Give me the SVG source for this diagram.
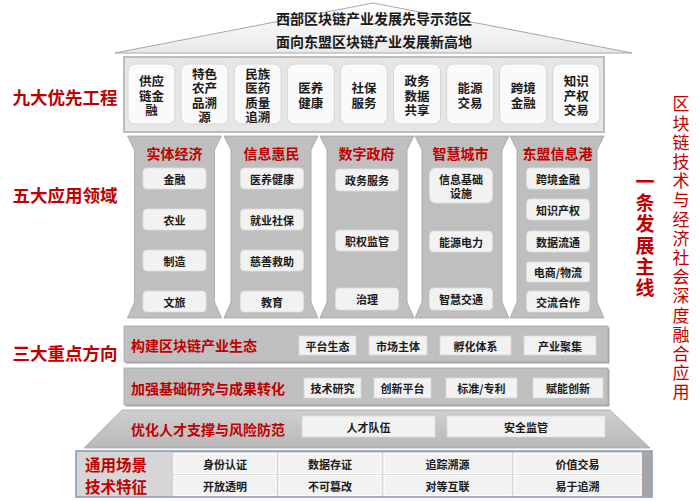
<svg xmlns="http://www.w3.org/2000/svg" width="700" height="501" viewBox="0 0 700 501">
<defs>
<linearGradient id="roofG" x1="0" y1="0" x2="0" y2="1"><stop offset="0" stop-color="#ffffff"/><stop offset="1" stop-color="#e9e9e9"/></linearGradient>
<linearGradient id="trapG" x1="0" y1="0" x2="0" y2="1"><stop offset="0" stop-color="#cfcfcf"/><stop offset="1" stop-color="#b8b8b8"/></linearGradient>
<style>
text{font-family:'Noto Sans CJK SC','Noto Sans',sans-serif;font-weight:700;text-anchor:middle;dominant-baseline:central;}
.lbl{font-size:17.5px;fill:#c00000;}
.ttl{font-size:14px;fill:#1a1a1a;}
.nine{font-size:12.5px;fill:#1a1a1a;}
.hd{font-size:14px;fill:#c00000;}
.it{font-size:11px;fill:#1a1a1a;}
.rt{font-size:14px;fill:#c00000;text-anchor:start;}
.bl{font-size:15.5px;fill:#c00000;}
.ibox{fill:#fafafa;stroke:#d6d6d6;stroke-width:1;}
.pbox{fill:#f2f2f2;stroke:#dedede;stroke-width:0.8;}
.rbox{fill:#f2f2f2;stroke:#d9d9d9;stroke-width:0.8;}
.pil{fill:#bfbfbf;stroke:#a3a3a3;stroke-width:0.8;}
.row{fill:#bfbfbf;stroke:#a6a6a6;stroke-width:0.8;}
.cell{fill:#f2f2f2;stroke:#ffffff;stroke-width:1.2;}
.vt{writing-mode:vertical-rl;fill:#c00000;}
</style>
</defs>
<rect width="700" height="501" fill="#ffffff"/>

<g id="roof">
<polygon points="115,53 373,3 632,53" fill="url(#roofG)" stroke="#a6a6a6" stroke-width="1"/>
<text class="ttl" x="374" y="18">西部区块链产业发展先导示范区</text>
<text class="ttl" x="374" y="41">面向东盟区块链产业发展新高地</text>
</g>

<g id="labels-left">
<text class="lbl" x="65" y="96">九大优先工程</text>
<text class="lbl" x="65" y="194">五大应用领域</text>
<text class="lbl" x="65" y="352">三大重点方向</text>
</g>

<g id="nine-projects">
<rect x="124" y="57" width="480" height="75" fill="#e6e6e6" stroke="#bdbdbd" stroke-width="2"/>
<g id="p1"><rect class="ibox" x="128" y="64" width="47" height="60" rx="7"/>
<text class="nine"><tspan x="151.5" y="80">供应</tspan><tspan x="151.5" y="94.5">链金</tspan><tspan x="151.5" y="109">融</tspan></text></g>
<g id="p2"><rect class="ibox" x="181.1" y="64" width="47" height="60" rx="7"/>
<text class="nine"><tspan x="204.6" y="72.75">特色</tspan><tspan x="204.6" y="87.25">农产</tspan><tspan x="204.6" y="101.75">品溯</tspan><tspan x="204.6" y="116.25">源</tspan></text></g>
<g id="p3"><rect class="ibox" x="234.2" y="64" width="47" height="60" rx="7"/>
<text class="nine"><tspan x="257.7" y="72.75">民族</tspan><tspan x="257.7" y="87.25">医药</tspan><tspan x="257.7" y="101.75">质量</tspan><tspan x="257.7" y="116.25">追溯</tspan></text></g>
<g id="p4"><rect class="ibox" x="287.3" y="64" width="47" height="60" rx="7"/>
<text class="nine"><tspan x="310.8" y="87.25">医养</tspan><tspan x="310.8" y="101.75">健康</tspan></text></g>
<g id="p5"><rect class="ibox" x="340.4" y="64" width="47" height="60" rx="7"/>
<text class="nine"><tspan x="363.9" y="87.25">社保</tspan><tspan x="363.9" y="101.75">服务</tspan></text></g>
<g id="p6"><rect class="ibox" x="393.5" y="64" width="47" height="60" rx="7"/>
<text class="nine"><tspan x="417" y="80">政务</tspan><tspan x="417" y="94.5">数据</tspan><tspan x="417" y="109">共享</tspan></text></g>
<g id="p7"><rect class="ibox" x="446.6" y="64" width="47" height="60" rx="7"/>
<text class="nine"><tspan x="470.1" y="87.25">能源</tspan><tspan x="470.1" y="101.75">交易</tspan></text></g>
<g id="p8"><rect class="ibox" x="499.7" y="64" width="47" height="60" rx="7"/>
<text class="nine"><tspan x="523.2" y="87.25">跨境</tspan><tspan x="523.2" y="101.75">金融</tspan></text></g>
<g id="p9"><rect class="ibox" x="552.8" y="64" width="47" height="60" rx="7"/>
<text class="nine"><tspan x="576.3" y="80">知识</tspan><tspan x="576.3" y="94.5">产权</tspan><tspan x="576.3" y="109">交易</tspan></text></g>
</g>

<g id="pillar1">
<polygon class="pil" points="127.5,136 221.5,136 214.5,150 214.5,302 221.5,318 127.5,318 134.5,302 134.5,150"/>
<text class="hd" x="174.5" y="153">实体经济</text>
<rect class="pbox" x="143" y="168" width="63" height="21" rx="4"/><text class="it" x="174.5" y="178.5">金融</text>
<rect class="pbox" x="143" y="209" width="63" height="21" rx="4"/><text class="it" x="174.5" y="219.5">农业</text>
<rect class="pbox" x="143" y="250" width="63" height="21" rx="4"/><text class="it" x="174.5" y="260.5">制造</text>
<rect class="pbox" x="143" y="291" width="63" height="21" rx="4"/><text class="it" x="174.5" y="301.5">文旅</text>
</g>

<g id="pillar2">
<polygon class="pil" points="224,136 318,136 311,150 311,302 318,318 224,318 231,302 231,150"/>
<text class="hd" x="271.5" y="153">信息惠民</text>
<rect class="pbox" x="240.5" y="168" width="63" height="21" rx="4"/><text class="it" x="272" y="178.5">医养健康</text>
<rect class="pbox" x="240.5" y="209" width="63" height="21" rx="4"/><text class="it" x="272" y="219.5">就业社保</text>
<rect class="pbox" x="240.5" y="250" width="63" height="21" rx="4"/><text class="it" x="272" y="260.5">慈善救助</text>
<rect class="pbox" x="240.5" y="291" width="63" height="21" rx="4"/><text class="it" x="272" y="301.5">教育</text>
</g>

<g id="pillar3">
<polygon class="pil" points="320,136 414,136 407,150 407,302 414,318 320,318 327,302 327,150"/>
<text class="hd" x="366.5" y="153">数字政府</text>
<rect class="pbox" x="335.5" y="169" width="63" height="22" rx="4"/><text class="it" x="367" y="180">政务服务</text>
<rect class="pbox" x="335.5" y="230" width="63" height="21" rx="4"/><text class="it" x="367" y="240.5">职权监管</text>
<rect class="pbox" x="335.5" y="288" width="63" height="22" rx="4"/><text class="it" x="367" y="299">治理</text>
</g>

<g id="pillar4">
<polygon class="pil" points="415,136 509,136 502,150 502,302 509,318 415,318 422,302 422,150"/>
<text class="hd" x="460.5" y="153">智慧城市</text>
<rect class="pbox" x="429.5" y="168" width="63" height="35" rx="6"/><text class="it"><tspan x="461" y="178.5">信息基础</tspan><tspan x="461" y="192.5">设施</tspan></text>
<rect class="pbox" x="429.5" y="231" width="63" height="21" rx="4"/><text class="it" x="461" y="241.5">能源电力</text>
<rect class="pbox" x="429.5" y="288" width="63" height="22" rx="4"/><text class="it" x="461" y="299">智慧交通</text>
</g>

<g id="pillar5">
<polygon class="pil" points="510,136 604,136 597,150 597,302 604,318 510,318 517,302 517,150"/>
<text class="hd" x="557.5" y="153">东盟信息港</text>
<rect class="pbox" x="526.5" y="168" width="63" height="21" rx="4"/><text class="it" x="558" y="178.5">跨境金融</text>
<rect class="pbox" x="526.5" y="199" width="63" height="21" rx="4"/><text class="it" x="558" y="209.5">知识产权</text>
<rect class="pbox" x="526.5" y="231" width="63" height="21" rx="4"/><text class="it" x="558" y="241.5">数据流通</text>
<rect class="pbox" x="526.5" y="262" width="63" height="20" rx="2"/><text class="it" x="558" y="272">电商/物流</text>
<rect class="pbox" x="526.5" y="291" width="63" height="21" rx="4"/><text class="it" x="558" y="301.5">交流合作</text>
</g>

<g id="row-ecosystem">
<rect x="125.5" y="327.5" width="484" height="36" fill="#a8a8a8"/>
<rect class="row" x="124" y="326" width="484" height="36"/>
<text class="rt" x="131" y="345">构建区块链产业生态</text>
<rect class="rbox" x="299" y="336" width="57" height="19"/><text class="it" x="327.5" y="345.5">平台生态</text>
<rect class="rbox" x="369" y="336" width="58" height="19"/><text class="it" x="398" y="345.5">市场主体</text>
<rect class="rbox" x="440" y="336" width="71" height="19"/><text class="it" x="475.5" y="345.5">孵化体系</text>
<rect class="rbox" x="524" y="336" width="72" height="19"/><text class="it" x="560" y="345.5">产业聚集</text>
</g>

<g id="row-research">
<rect x="125.5" y="369.5" width="484" height="37" fill="#a8a8a8"/>
<rect class="row" x="124" y="368" width="484" height="37"/>
<text class="rt" x="131" y="387.5">加强基础研究与成果转化</text>
<rect class="rbox" x="304" y="378" width="57" height="20"/><text class="it" x="332.5" y="388">技术研究</text>
<rect class="rbox" x="374" y="378" width="57" height="20"/><text class="it" x="402.5" y="388">创新平台</text>
<rect class="rbox" x="446" y="378" width="71" height="20"/><text class="it" x="481.5" y="388">标准/专利</text>
<rect class="rbox" x="533" y="378" width="70" height="20"/><text class="it" x="568" y="388">赋能创新</text>
</g>

<g id="row-talent">
<polygon points="122,410 610,410 650,448 84,448" fill="url(#trapG)" stroke="#a6a6a6" stroke-width="0.8"/>
<text class="rt" x="131" y="429">优化人才支撑与风险防范</text>
<rect class="rbox" x="302" y="416" width="133" height="21"/><text class="it" x="368.5" y="426.5">人才队伍</text>
<rect class="rbox" x="447" y="416" width="158" height="21"/><text class="it" x="526" y="426.5">安全监管</text>
</g>

<g id="base">
<rect x="76" y="451" width="576" height="46" fill="#d6d6d6" stroke="#8497b0" stroke-width="1.5"/>
<rect x="642" y="452" width="9.5" height="44" fill="#a6a6a6"/>
<text class="bl" x="116" y="463.5">通用场景</text>
<text class="bl" x="116" y="485.5">技术特征</text>
<rect class="cell" x="174" y="453.5" width="102" height="20"/><text class="it" x="225" y="463.5">身份认证</text>
<rect class="cell" x="279" y="453.5" width="102" height="20"/><text class="it" x="330" y="463.5">数据存证</text>
<rect class="cell" x="384" y="453.5" width="127" height="20"/><text class="it" x="447.5" y="463.5">追踪溯源</text>
<rect class="cell" x="514" y="453.5" width="127" height="20"/><text class="it" x="577.5" y="463.5">价值交易</text>
<rect class="cell" x="174" y="475.5" width="102" height="20"/><text class="it" x="225" y="485.5">开放透明</text>
<rect class="cell" x="279" y="475.5" width="102" height="20"/><text class="it" x="330" y="485.5">不可篡改</text>
<rect class="cell" x="384" y="475.5" width="127" height="20"/><text class="it" x="447.5" y="485.5">对等互联</text>
<rect class="cell" x="514" y="475.5" width="127" height="20"/><text class="it" x="577.5" y="485.5">易于追溯</text>
</g>

<g id="mainline">
<text class="vt" x="645" y="236" style="font-size:19px;letter-spacing:2.3px;font-weight:700">一条发展主线</text>
</g>

<g id="fusion">
<text class="vt" x="681" y="249" style="font-size:17px;letter-spacing:2.2px;font-weight:400">区块链技术与经济社会深度融合应用</text>
</g>

<g id="connectors"></g>
</svg>
